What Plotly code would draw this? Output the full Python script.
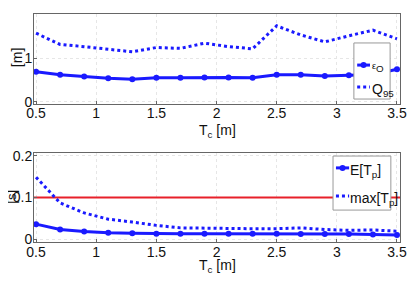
import plotly.graph_objects as go
from plotly.subplots import make_subplots

tc = [0.5, 0.7, 0.9, 1.1, 1.3, 1.5, 1.7, 1.9, 2.1, 2.3, 2.5, 2.7, 2.9, 3.1, 3.3, 3.5]
eps_o = [0.69, 0.62, 0.58, 0.54, 0.52, 0.55, 0.55, 0.56, 0.56, 0.55, 0.62, 0.62, 0.59, 0.61, 0.62, 0.75]
q95 = [1.58, 1.32, 1.27, 1.21, 1.15, 1.25, 1.23, 1.35, 1.27, 1.22, 1.75, 1.54, 1.38, 1.52, 1.65, 1.45]
e_tp = [0.036, 0.023, 0.018, 0.015, 0.014, 0.013, 0.013, 0.013, 0.013, 0.013, 0.013, 0.012, 0.012, 0.012, 0.011, 0.010]
max_tp = [0.149, 0.087, 0.063, 0.048, 0.041, 0.033, 0.027, 0.026, 0.026, 0.025, 0.025, 0.027, 0.023, 0.021, 0.022, 0.019]
limit = 0.1
x_ticks = [0.5, 1, 1.5, 2, 2.5, 3, 3.5]
x_ticktext = ["0.5", "1", "1.5", "2", "2.5", "3", "3.5"]
legend_top = ["<span style='font-size:9px'>ε</span><sub>O</sub>", "Q<sub>95</sub>"]
legend_bot = ["E[T<sub>p</sub>]", "max[T<sub>p</sub>]"]

FONT = "Liberation Sans Narrow, Liberation Sans, Arial, sans-serif"
BLUE = "#1a1aff"
RED = "#e8202a"
TXT = "#111"

fig = make_subplots(rows=2, cols=1, vertical_spacing=0.22)

fig.add_trace(go.Scatter(x=tc, y=q95, mode="lines", name=legend_top[1], cliponaxis=False,
                         line=dict(color=BLUE, width=3, dash="dot")), row=1, col=1)
fig.add_trace(go.Scatter(x=tc, y=eps_o, mode="lines+markers", name=legend_top[0], cliponaxis=False,
                         line=dict(color=BLUE, width=3), marker=dict(size=6, color=BLUE)), row=1, col=1)
fig.add_trace(go.Scatter(x=[tc[0] - 0.05, tc[-1] + 0.05], y=[limit, limit], mode="lines",
                         line=dict(color=RED, width=2)), row=2, col=1)
fig.add_trace(go.Scatter(x=tc, y=max_tp, mode="lines", name=legend_bot[1], cliponaxis=False,
                         line=dict(color=BLUE, width=3, dash="dot")), row=2, col=1)
fig.add_trace(go.Scatter(x=tc, y=e_tp, mode="lines+markers", name=legend_bot[0], cliponaxis=False,
                         line=dict(color=BLUE, width=3), marker=dict(size=6, color=BLUE)), row=2, col=1)

axis_common = dict(showline=True, linecolor="#666", linewidth=1, mirror=True,
                   ticks="inside", ticklen=3, tickcolor="#666", automargin=False,
                   showgrid=True, gridcolor="#e6e6e6", griddash="dot", zeroline=False,
                   tickfont=dict(family=FONT, size=14, color=TXT))

fig.update_xaxes(range=[0.483, 3.525], tickvals=x_ticks, ticktext=x_ticktext,
                 ticklabelstandoff=-3, **axis_common)
fig.update_yaxes(range=[-0.044, 2.023], tickvals=[0, 1, 2], ticklabelstandoff=-2,
                 row=1, col=1, **axis_common)
fig.update_yaxes(range=[-0.007, 0.207], tickvals=[0, 0.1, 0.2], ticklabelstandoff=-2,
                 row=2, col=1, **axis_common)

tf = dict(family=FONT, size=14, color=TXT)
annotations = [
    dict(text="T<sub>c</sub> [m]", x=0.5, y=0.485, xref="paper", yref="paper", showarrow=False,
         xanchor="center", yanchor="middle", font=tf),
    dict(text="T<sub>c</sub> [m]", x=0.5, y=-0.105, xref="paper", yref="paper", showarrow=False,
         xanchor="center", yanchor="middle", font=tf),
    dict(text="[m]", x=-0.046, y=0.807, xref="paper", yref="paper", showarrow=False,
         textangle=-90, xanchor="center", yanchor="middle", font=tf),
    dict(text="[s]", x=-0.062, y=0.2, xref="paper", yref="paper", showarrow=False,
         textangle=-90, xanchor="center", yanchor="middle",
         font=dict(family=FONT, size=13, color=TXT)),
]

shapes = []


def add_legend(box, rows, labels, line_x, text_x):
    x0, x1, y0, y1 = box
    shapes.append(dict(type="rect", xref="paper", yref="paper", x0=x0, x1=x1, y0=y0, y1=y1,
                       fillcolor="white", line=dict(color="#999", width=1), layer="above"))
    for i, (yy, lab) in enumerate(zip(rows, labels)):
        shapes.append(dict(type="line", xref="paper", yref="paper", x0=line_x[0], x1=line_x[1],
                           y0=yy, y1=yy, layer="above",
                           line=dict(color=BLUE, width=3, dash="solid" if i == 0 else "dot")))
        if i == 0:
            xm = (line_x[0] + line_x[1]) / 2
            rx, ry = 3 / 366, 3 / 228
            shapes.append(dict(type="circle", xref="paper", yref="paper", x0=xm - rx, x1=xm + rx,
                               y0=yy - ry, y1=yy + ry, fillcolor=BLUE, line=dict(color=BLUE, width=0),
                               layer="above"))
        annotations.append(dict(text=lab, x=text_x, y=yy - 0.012, xref="paper", yref="paper",
                                showarrow=False, xanchor="left", yanchor="middle",
                                font=dict(family=FONT, size=14, color=TXT)))


add_legend((0.874, 0.973, 0.627, 0.873), [0.776, 0.680], legend_top, (0.883, 0.918), 0.918)
add_legend((0.817, 0.975, 0.140, 0.377), [0.325, 0.202], legend_bot, (0.825, 0.861), 0.858)

# The page body has an 8px default margin, so the figure is sized and margined to compensate.
fig.update_layout(
    width=407, height=278,
    margin=dict(l=26, r=15, t=6, b=44),
    paper_bgcolor="white", plot_bgcolor="white",
    yaxis=dict(domain=[0.607, 1.0]),
    yaxis2=dict(domain=[0.0, 0.390]),
    showlegend=False,
    annotations=annotations,
    shapes=shapes,
)

fig.write_html("out.html")
